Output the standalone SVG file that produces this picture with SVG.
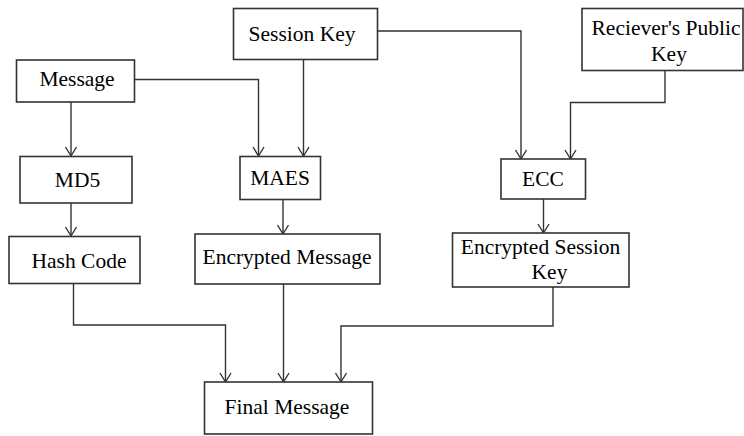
<svg xmlns="http://www.w3.org/2000/svg" width="744" height="436" viewBox="0 0 744 436">
<style>
.box{fill:#fff;stroke:#333;stroke-width:1.6}
.lbl{font-family:"Liberation Serif","Times New Roman",serif;font-size:21.5px;fill:#000;text-anchor:middle}
.ln{fill:none;stroke:#333;stroke-width:1.4}
</style>
<defs>
<marker id="arr" markerUnits="userSpaceOnUse" markerWidth="14" markerHeight="14" viewBox="-11 -7 13 14" refX="0" refY="0" orient="auto">
<path d="M -9 -5.5 L 0 0 L -9 5.5" fill="none" stroke="#333" stroke-width="1.4"/>
</marker>
</defs>
<rect width="744" height="436" fill="#fff"/>
<g id="connectors">
<path class="ln" d="M71 102 V156" marker-end="url(#arr)"/>
<path class="ln" d="M134 79.5 H258.5 V156" marker-end="url(#arr)"/>
<path class="ln" d="M303.5 59 V156" marker-end="url(#arr)"/>
<path class="ln" d="M377 31 H521 V159" marker-end="url(#arr)"/>
<path class="ln" d="M665 71 V102.5 H570.5 V159" marker-end="url(#arr)"/>
<path class="ln" d="M71 203 V236" marker-end="url(#arr)"/>
<path class="ln" d="M283 199 V234" marker-end="url(#arr)"/>
<path class="ln" d="M543.5 199 V233" marker-end="url(#arr)"/>
<path class="ln" d="M73.5 283 V325 H225.5 V382" marker-end="url(#arr)"/>
<path class="ln" d="M283.5 284 V382" marker-end="url(#arr)"/>
<path class="ln" d="M553 287 V326 H341 V382" marker-end="url(#arr)"/>
</g>
<g id="session-key"><rect class="box" x="233.5" y="8.5" width="144" height="51"/><text class="lbl" x="302" y="41">Session Key</text></g>
<g id="message"><rect class="box" x="16.5" y="60" width="118" height="42"/><text class="lbl" x="77" y="86">Message</text></g>
<g id="receiver-key"><rect class="box" x="582" y="8.5" width="161" height="62"/><text class="lbl" x="666" y="35">Reciever's Public</text><text class="lbl" x="669" y="61">Key</text></g>
<g id="md5"><rect class="box" x="20" y="156.5" width="112" height="46.5"/><text class="lbl" x="77.5" y="187">MD5</text></g>
<g id="maes"><rect class="box" x="240" y="156.5" width="80.5" height="43"/><text class="lbl" x="280" y="184.5">MAES</text></g>
<g id="ecc"><rect class="box" x="501" y="159" width="84.5" height="40"/><text class="lbl" x="543" y="186">ECC</text></g>
<g id="hash-code"><rect class="box" x="9" y="236.5" width="131" height="47"/><text class="lbl" x="79" y="267.5">Hash Code</text></g>
<g id="encrypted-message"><rect class="box" x="195" y="234" width="185" height="50"/><text class="lbl" x="287" y="264">Encrypted Message</text></g>
<g id="encrypted-session-key"><rect class="box" x="452.5" y="233" width="176.5" height="54"/><text class="lbl" x="540.5" y="253.5">Encrypted Session</text><text class="lbl" x="549.5" y="278.5">Key</text></g>
<g id="final-message"><rect class="box" x="204.5" y="382" width="168" height="52"/><text class="lbl" x="287" y="413.5">Final Message</text></g>
</svg>
